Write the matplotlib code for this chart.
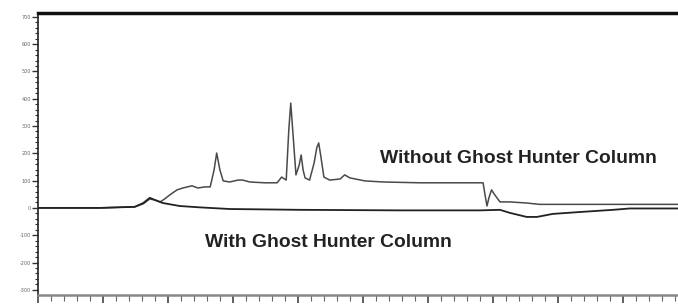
import matplotlib
matplotlib.use("Agg")
import matplotlib.pyplot as plt
from matplotlib.ticker import MultipleLocator, NullFormatter

# Retention time (min) and detector response (mAU)
t_without = [0.00, 0.95, 1.49, 1.62, 1.72, 1.80, 1.88, 1.95, 2.03, 2.14, 2.23, 2.37,
             2.46, 2.57, 2.65, 2.71, 2.75, 2.80, 2.85, 2.95, 3.08, 3.15, 3.26, 3.49,
             3.68, 3.75, 3.82, 3.86, 3.89, 3.92, 3.97, 4.02, 4.05, 4.08, 4.11, 4.18,
             4.25, 4.29, 4.32, 4.35, 4.40, 4.49, 4.65, 4.72, 4.80, 5.03, 5.31, 5.88,
             6.85, 6.88, 6.91, 6.94, 6.98, 7.03, 7.11, 7.26, 7.52, 7.72, 8.03, 9.85]
y_without = [0, 0, 4, 15, 33, 29, 22, 33, 48, 66, 73, 81,
             73, 77, 77, 139, 201, 139, 99, 95, 102, 102, 95, 92,
             92, 113, 102, 286, 384, 286, 121, 157, 194, 139, 110, 102,
             165, 220, 238, 194, 113, 102, 106, 121, 110, 99, 95, 92,
             92, 48, 7, 37, 66, 48, 22, 22, 18, 13, 13, 13]

t_with = [0.00, 0.95, 1.49, 1.62, 1.72, 1.80, 1.92, 2.18, 2.49, 2.95, 4.03, 5.57,
          6.80, 7.11, 7.26, 7.52, 7.68, 7.92, 8.34, 8.85, 9.11, 9.85]
y_with = [0, 0, 4, 18, 37, 29, 18, 7, 2, -4, -7, -9,
          -9, -7, -18, -33, -33, -22, -15, -7, -2, -2]

label_without = "Without Ghost Hunter Column"
label_with = "With Ghost Hunter Column"
y_ticks = [700, 600, 500, 400, 300, 200, 100, 0, -100, -200, -300]

fig = plt.figure(figsize=(6.78, 3.05), dpi=100)
ax = fig.add_axes([38 / 678, 10 / 305, 1 - 38 / 678, 282 / 305])

line_color = "#4a4a4a"
ax.plot(t_without, y_without, color=line_color, lw=1.1)
ax.plot(t_with, y_with, color="#222222", lw=1.3)

ax.set_xlim(0, 9.85)
ax.set_ylim(-319, 714)

ax.spines["right"].set_visible(False)
ax.spines["top"].set_linewidth(2.5)
ax.spines["top"].set_color("#111111")
ax.spines["left"].set_linewidth(1.2)
ax.spines["left"].set_color("#222222")
ax.spines["bottom"].set_linewidth(1.8)
ax.spines["bottom"].set_color("#888888")

ax.set_yticks(y_ticks)
ax.set_yticklabels([str(v) for v in y_ticks])
ax.yaxis.set_minor_locator(MultipleLocator(20))
ax.tick_params(axis="y", which="major", length=4, width=1, colors="#333333",
               labelsize=3.5, labelcolor="#666666", pad=1)
ax.tick_params(axis="y", which="minor", length=2, width=0.8, colors="#333333")

ax.xaxis.set_major_locator(MultipleLocator(1))
ax.xaxis.set_minor_locator(MultipleLocator(0.2))
ax.xaxis.set_major_formatter(NullFormatter())
ax.tick_params(axis="x", which="major", length=6, width=1.2, colors="#444444")
ax.tick_params(axis="x", which="minor", length=4, width=0.8, colors="#666666")

ax.text(5.26, 182, label_without, fontsize=13.9, fontweight="bold",
        family="Liberation Sans", color="#222222", va="center", ha="left")
ax.text(2.57, -127, label_with, fontsize=13.9, fontweight="bold",
        family="Liberation Sans", color="#222222", va="center", ha="left")

fig.savefig("out.png", dpi=100)
